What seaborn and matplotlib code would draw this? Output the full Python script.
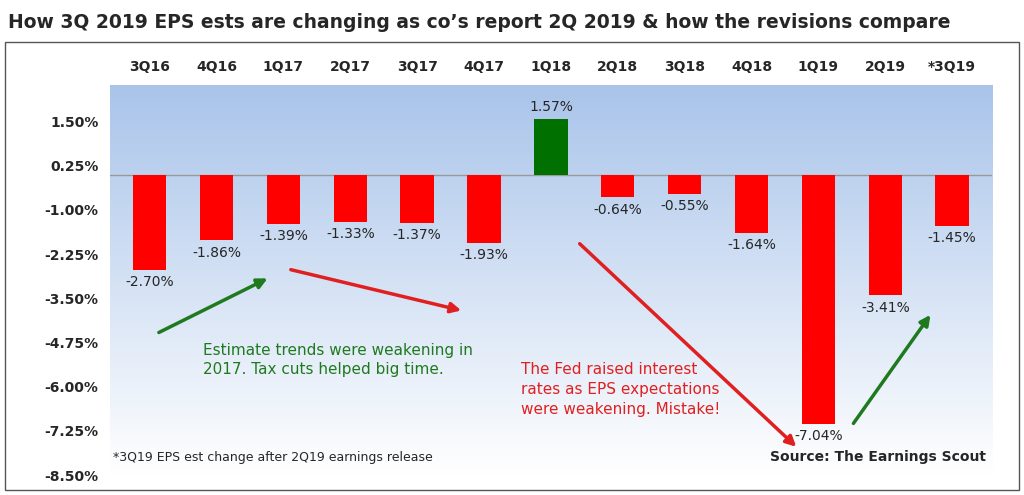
import numpy as np
import matplotlib
matplotlib.use("Agg")
import matplotlib.pyplot as plt
import seaborn as sns
import pandas as pd
from matplotlib.colors import LinearSegmentedColormap
from matplotlib.patches import Rectangle

quarters = ["3Q16","4Q16","1Q17","2Q17","3Q17","4Q17","1Q18","2Q18","3Q18","4Q18","1Q19","2Q19","*3Q19"]
changes = [-2.70,-1.86,-1.39,-1.33,-1.37,-1.93,1.57,-0.64,-0.55,-1.64,-7.04,-3.41,-1.45]
yticks = [1.50,0.25,-1.00,-2.25,-3.50,-4.75,-6.00,-7.25,-8.50]

sns.set_style("white")
plt.rcParams['font.family'] = ['DejaVu Sans']
df = pd.DataFrame({"q": quarters, "v": changes})
colors = ["#007000" if v > 0 else "#ff0000" for v in changes]

fig = plt.figure(figsize=(10.24, 4.95), dpi=100)
ax = fig.add_axes([0.107, 0.04, 0.862, 0.788])
grad = np.linspace(0, 1, 256).reshape(-1, 1)
cmap = LinearSegmentedColormap.from_list("g", ["#a9c4ea", "#ffffff"])
ax.imshow(grad, aspect="auto", cmap=cmap, extent=[0, 1, 0, 1], transform=ax.transAxes, zorder=0)
sns.barplot(data=df, x="q", y="v", hue="q", palette=colors, legend=False, width=0.5,
            saturation=1, edgecolor="none", ax=ax, zorder=2)
ax.set_ylim(-8.5, 2.53)
ax.set_xlim(-0.6, 12.6)
ax.axhline(0, color="#999999", lw=1, zorder=1)
ax.set_yticks(yticks)
ax.set_yticklabels([f"{t:.2f}%" for t in yticks], fontsize=10, fontweight="bold")
ax.xaxis.tick_top()
ax.set_xticks(range(len(quarters)))
ax.set_xticklabels(quarters, fontsize=10, fontweight="bold")
ax.tick_params(length=0, pad=8)
ax.set_xlabel(""); ax.set_ylabel("")
for s in ax.spines.values():
    s.set_visible(False)
for i, v in enumerate(changes):
    if v > 0:
        ax.text(i, v + 0.15, f"{v:.2f}%", ha="center", va="bottom", fontsize=10)
    else:
        ax.text(i, v - 0.15, f"{v:.2f}%", ha="center", va="top", fontsize=10)

arrow = dict(arrowstyle="-|>", lw=2.5, mutation_scale=15)
ax.annotate("", xy=(1.8, -2.9), xytext=(0.1, -4.5), arrowprops=dict(color="#1f7a1f", **arrow))
ax.annotate("", xy=(4.7, -3.86), xytext=(2.07, -2.67), arrowprops=dict(color="#e02020", **arrow))
ax.annotate("", xy=(9.7, -7.75), xytext=(6.4, -1.9), arrowprops=dict(color="#e02020", **arrow))
ax.annotate("", xy=(11.7, -3.9), xytext=(10.5, -7.1), arrowprops=dict(color="#1f7a1f", **arrow))
ax.text(0.8, -4.75, "Estimate trends were weakening in\n2017. Tax cuts helped big time.",
        color="#1f7a1f", fontsize=11, linespacing=1.4, va="top")
ax.text(5.55, -5.3, "The Fed raised interest\nrates as EPS expectations\nwere weakening. Mistake!",
        color="#e02020", fontsize=11, linespacing=1.4, va="top")
ax.text(-0.55, -8.1, "*3Q19 EPS est change after 2Q19 earnings release", fontsize=9)
ax.text(12.5, -8.1, "Source: The Earnings Scout", fontsize=10, fontweight="bold", ha="right")

fig.text(0.008, 0.955, "How 3Q 2019 EPS ests are changing as co\u2019s report 2Q 2019 & how the revisions compare",
         fontsize=13.5, fontweight="bold", va="center")
fig.patches.append(Rectangle((0.005, 0.01), 0.99, 0.905, transform=fig.transFigure,
                             fill=False, ec="#555555", lw=1))
fig.savefig("out.png", dpi=100)
